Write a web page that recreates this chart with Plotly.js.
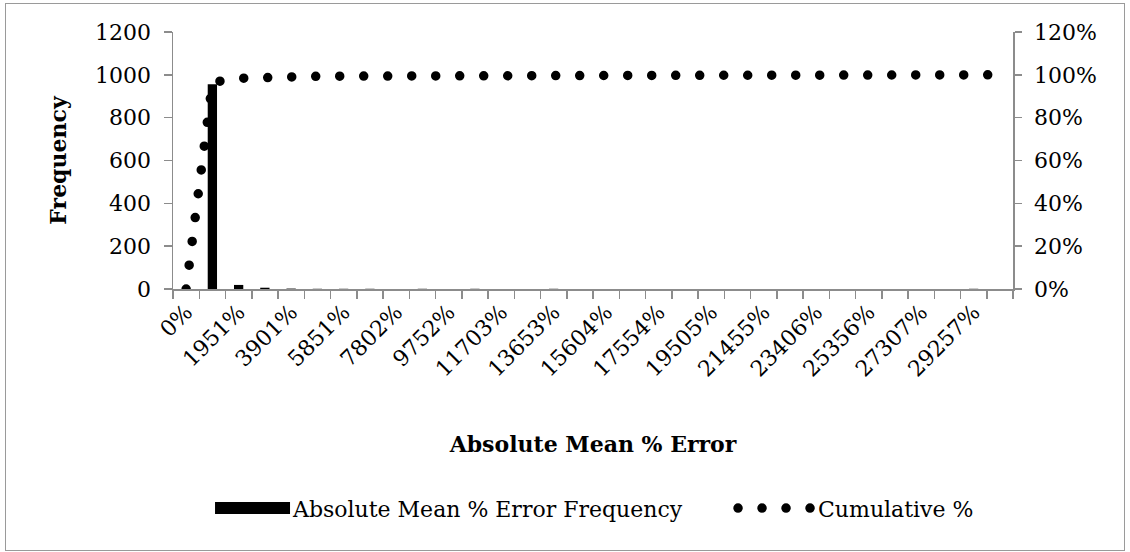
<!DOCTYPE html>
<html>
<head>
<meta charset="utf-8">
<script src="https://cdn.plot.ly/plotly-3.0.1.min.js"></script>
<style>
  html, body { margin: 0; padding: 0; background: #fff; }
  #wrap { position: relative; width: 1130px; height: 552px; }
  #chart { position: absolute; left: 0; top: 0; width: 1130px; height: 552px; }
  #frame { position: absolute; left: 5px; top: 3px; width: 1118px; height: 546px; border: 1px solid #9a9a9a; pointer-events: none; }
  .js-line { stroke-linecap: round; }
</style>
</head>
<body>
<div id="wrap">
  <div id="chart"></div>
  <div id="frame"></div>
</div>
<script>
// Bin labels (category axis)
const categories = ["0%","975%","1951%","2926%","3901%","4876%","5851%","6827%","7802%","8777%",
  "9752%","10728%","11703%","12678%","13653%","14629%","15604%","16579%","17554%","18529%",
  "19505%","20480%","21455%","22430%","23406%","24381%","25356%","26331%","27307%","28282%",
  "29257%","More"];
// Frequency per bin
const frequency = [0, 956, 19, 6, 2, 1, 1, 1, 0, 1, 0, 1, 0, 0, 1, 0,
  0, 0, 0, 0, 0, 0, 0, 0, 0, 0, 0, 0, 0, 0, 1, 0];
// Cumulative % per bin
const cumulative = [0, 0.965, 0.984, 0.990, 0.992, 0.993, 0.994, 0.995, 0.995, 0.996, 0.996, 0.997, 0.997, 0.997, 0.998, 0.998,
  0.998, 0.998, 0.998, 0.998, 0.998, 0.998, 0.998, 0.998, 0.998, 0.998, 0.998, 0.998, 0.998, 0.998, 0.999, 1.0];
// Tick labels: every other bin shown
const tickLabels = categories.map((c, i) => (i % 2 === 0 ? c : ""));

const FONT = "DejaVu Serif";
const AX = "#8c8c8c";

const traces = [
  {
    type: "bar",
    name: "Absolute Mean % Error Frequency",
    x: categories,
    y: frequency,
    marker: { color: "#000000", line: { width: 0 } },
    yaxis: "y",
    legend: "legend"
  },
  {
    type: "scatter",
    mode: "lines",
    name: "Cumulative %",
    x: categories,
    y: cumulative,
    yaxis: "y2",
    legend: "legend2",
    line: { color: "#000000", width: 9.5, dash: "0px,24px" }
  }
];

const legendCommon = {
  orientation: "h",
  xanchor: "left",
  y: -0.853,
  yanchor: "middle",
  itemwidth: 75,
  font: { family: FONT, size: 22 },
  bgcolor: "rgba(0,0,0,0)"
};

const layout = {
  width: 1130,
  height: 552,
  paper_bgcolor: "#ffffff",
  plot_bgcolor: "#ffffff",
  margin: { l: 173, r: 117, t: 32, b: 263, pad: 0 },
  font: { family: FONT, size: 22, color: "#000" },
  showlegend: true,
  bargap: 0.645,
  xaxis: {
    type: "category",
    range: [-0.5, 31.5],
    tickmode: "array",
    tickvals: categories,
    ticktext: tickLabels,
    tickson: "boundaries",
    ticks: "outside",
    ticklen: 8,
    tickwidth: 1.5,
    tickcolor: AX,
    tickangle: -45,
    showline: true,
    linecolor: AX,
    linewidth: 1.5,
    showgrid: false,
    zeroline: false,
    tickfont: { family: FONT, size: 22 },
    title: { text: "<b>Absolute Mean % Error</b>", font: { family: FONT, size: 22 }, standoff: 56 }
  },
  yaxis: {
    range: [0, 1200],
    dtick: 200,
    ticks: "outside",
    ticklen: 8,
    tickwidth: 1.5,
    tickcolor: AX,
    ticklabelstandoff: 8,
    showline: true,
    linecolor: AX,
    linewidth: 1.5,
    showgrid: false,
    zeroline: false,
    tickfont: { family: FONT, size: 22 },
    title: { text: "<b>Frequency</b>", font: { family: FONT, size: 22 }, standoff: 22 }
  },
  yaxis2: {
    overlaying: "y",
    side: "right",
    range: [0, 1.2],
    dtick: 0.2,
    tickformat: ".0%",
    ticks: "outside",
    ticklen: 7,
    tickwidth: 1.5,
    tickcolor: AX,
    ticklabelstandoff: 8,
    showline: true,
    linecolor: AX,
    linewidth: 1.5,
    showgrid: false,
    zeroline: false,
    tickfont: { family: FONT, size: 22 }
  },
  legend: Object.assign({}, legendCommon, { x: 0.0417 }),
  legend2: Object.assign({}, legendCommon, { x: 0.6667 })
};

Plotly.newPlot("chart", traces, layout, { displayModeBar: false, staticPlot: true }).then(function (gd) {
  // widen the bar legend swatch to a long bar like the original
  gd.querySelectorAll("path.legendbar, path.legendundefined").forEach(function (p) {
    p.setAttribute("d", "M-35.5,6h75v-12h-75Z");
  });
  // round caps so the dotted line draws as round dots (legend too)
  gd.querySelectorAll("path.js-line").forEach(function (p) {
    p.style.strokeLinecap = "round";
  });
});
</script>
</body>
</html>
